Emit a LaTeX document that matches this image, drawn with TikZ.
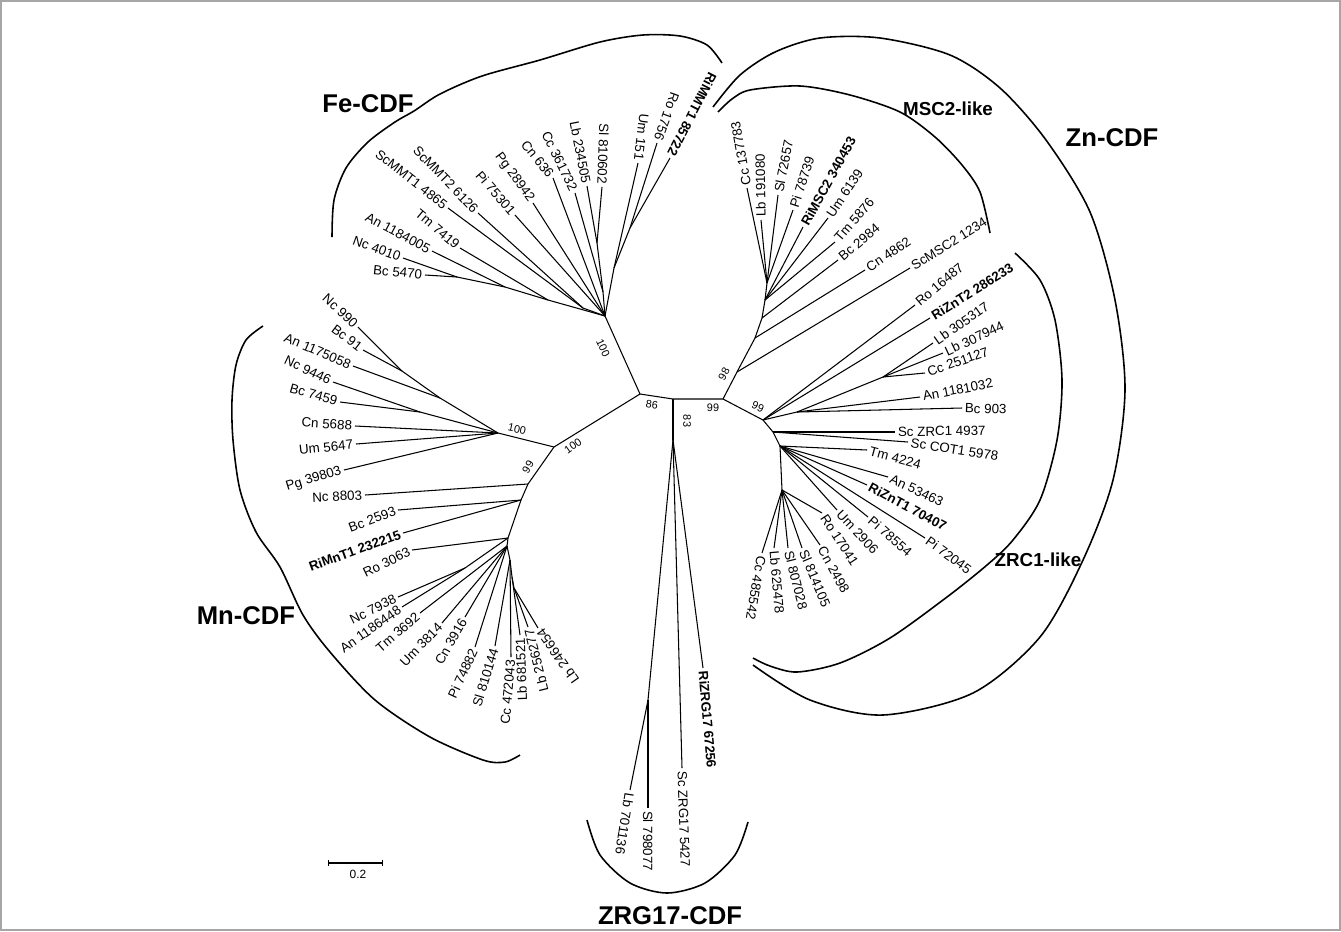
\documentclass[tikz,border=0pt]{standalone}
\usepackage{fontspec}
\setmainfont{Liberation Sans}
\usetikzlibrary{arrows.meta}

\tikzset{
  branch/.style={line width=0.6pt},
  bracket/.style={line width=0.9pt},
  tip/.style={font=\fontsize{7.6}{8}\selectfont, inner sep=1.5pt},
  tipin/.style={tip, anchor=east},
  tipout/.style={tip, anchor=west},
  boot/.style={font=\fontsize{6.2}{7}\selectfont, inner sep=0pt},
  cladename/.style={font=\bfseries\fontsize{14.6}{17}\selectfont},
  subname/.style={font=\bfseries\fontsize{10.7}{12}\selectfont},
}

\begin{document}
\begin{tikzpicture}[x=0.02cm, y=-0.02cm]
  \useasboundingbox (0,0) rectangle (1341,931);
  \draw[gray!70, line width=0.6pt] (1,1) rectangle (1340,930);

  % backbone
  \coordinate (A) at (640,394);
  \coordinate (B) at (673,399);
  \coordinate (C) at (723,399);
  \coordinate (D) at (554,447);
  \coordinate (fe0) at (605,316);
  \coordinate (ms0) at (737,372);
  \coordinate (zr0) at (763,420);
  \coordinate (zg0) at (673,440);
  \draw[branch] (A) -- (B) -- (C);
  \draw[branch] (B) -- (zg0);
  \draw[branch] (A) -- (fe0);
  \draw[branch] (A) -- (D);
  \draw[branch] (C) -- (ms0);
  \draw[branch] (C) -- (zr0);

  % Fe-CDF
  \coordinate (feA3) at (548,300);
  \coordinate (feA2) at (505,287);
  \coordinate (feA1) at (457,277);
  \coordinate (feS) at (583,308);
  \coordinate (feC) at (603,292);
  \coordinate (feL) at (597,243);
  \coordinate (feU) at (614,268);
  \coordinate (feR) at (630,228);
  \draw[branch] (fe0) -- (feA3) -- (feA2) -- (feA1);
  \draw[branch] (fe0) -- (feS);
  \draw[branch] (fe0) -- (feC) -- (feL);
  \draw[branch] (fe0) -- (feU) -- (feR);
  \foreach \pa/\nm/\xx/\yy/\rt/\txt in {
    feA1/fe1/425/275/-6/Bc 5470,
    feA1/fe2/403/258/-20/Nc 4010,
    feA2/fe3/432/251/-28/An 1184005,
    feA3/fe4/460/248/-40/Tm 7419,
    feS/fe5/448/208/-38/ScMMT1 4865,
    feS/fe6/478/213/-46/ScMMT2 6126,
    fe0/fe7/515/215/-49/Pi 75301,
    fe0/fe8/533/203/-54/Pg 28942,
    fe0/fe9/553/178/-51/Cn 636,
    feC/fe10/575/193/-64/Cc 361732,
    feL/fe11/587/186/-79/Lb 234505,
    feL/fe12/602/187/-92/Sl 810602,
    feU/fe13/638/163/-97/Um 151,
    feR/fe14/657/143/-110/Ro 1756,
    feR/fe15/670/158/-117/{\bfseries RiMMT1 85722}} {
    \coordinate (\nm) at (\xx,\yy);
    \node[tipin, rotate=\rt] (\nm-l) at (\nm) {\txt};
    \draw[branch] (\pa) -- (\nm);
  }

  % MSC2-like
  \coordinate (ms1) at (755,338);
  \coordinate (ms2) at (762,318);
  \coordinate (ms3) at (765,300);
  \coordinate (ms4) at (767,283);
  \draw[branch] (ms0) -- (ms1) -- (ms2) -- (ms3) -- (ms4);
  \foreach \pa/\nm/\xx/\yy/\rt/\txt in {
    ms4/ms5/747/188/100/Cc 137783,
    ms4/ms6/761/220/91/Lb 191080,
    ms4/ms7/778/195/79/Sl 72657,
    ms4/ms8/793/210/72/Pi 78739,
    ms3/ms9/803/227/61/{\bfseries RiMSC2 340453},
    ms3/ms10/828/218/56/Um 6139,
    ms3/ms11/835/242/49/Tm 5876,
    ms2/ms12/838/260/40/Bc 2984,
    ms1/ms13/865/270/34/Cn 4862,
    ms0/ms14/910/268/32/ScMSC2 1234} {
    \coordinate (\nm) at (\xx,\yy);
    \node[tipout, rotate=\rt] (\nm-l) at (\nm) {\txt};
    \draw[branch] (\pa) -- (\nm);
  }

  % ZRC1-like
  \coordinate (zrB) at (797,412);
  \coordinate (zrL) at (883,377);
  \coordinate (zr1) at (773,432);
  \coordinate (zr2) at (780,446);
  \coordinate (zr3) at (782,490);
  \draw[branch] (zr0) -- (zrB) -- (zrL);
  \draw[branch] (zr0) -- (zr1) -- (zr2) -- (zr3);
  \foreach \pa/\nm/\xx/\yy/\rt/\txt in {
    zr0/zl1/915/305/40/Ro 16487,
    zr0/zl2/930/318/32/{\bfseries RiZnT2 286233},
    zrL/zl3/933/343/35/Lb 305317,
    zrL/zl4/943/353/25/Lb 307944,
    zrL/zl5/925/373/19/Cc 251127,
    zrB/zl6/920/397/11/An 1181032,
    zrB/zl7/962/408/-2/Bc 903,
    zr1/zl8/895/432/1/Sc ZRC1 4937,
    zr1/zl9/908/442/-9/Sc COT1 5978,
    zr2/zl10/867/450/-15/Tm 4224,
    zr2/zl11/888/477/-25/An 53463,
    zr2/zl12/867/485/-28/{\bfseries RiZnT1 70407},
    zr2/zl13/925/538/-36/Pi 72045,
    zr2/zl14/868/517/-41/Pi 78554,
    zr2/zl15/837/510/-47/Um 2906,
    zr3/zl16/822/513/-57/Ro 17041,
    zr3/zl17/820/545/-61/Cn 2498,
    zr3/zl18/802/548/-67/Sl 814105,
    zr3/zl19/788/548/-76/Sl 807028,
    zr3/zl20/774/548/-85/Lb 625478,
    zr3/zl21/762/553/-100/Cc 485542} {
    \coordinate (\nm) at (\xx,\yy);
    \node[tipout, rotate=\rt] (\nm-l) at (\nm) {\txt};
    \draw[branch] (\pa) -- (\nm);
  }

  % Mn-CDF
  \coordinate (mnU) at (498,433);
  \coordinate (mnU1) at (440,398);
  \coordinate (mnU2) at (402,371);
  \coordinate (mnU3) at (420,412);
  \coordinate (mnL) at (528,484);
  \coordinate (mnL2) at (521,500);
  \coordinate (mnL3) at (508,538);
  \coordinate (mnNA) at (465,568);
  \coordinate (mnL4) at (507,546);
  \coordinate (mnL5) at (510,560);
  \coordinate (mnL6) at (512,577);
  \coordinate (mnL7) at (514,588);
  \draw[branch] (D) -- (mnU) -- (mnU1) -- (mnU2);
  \draw[branch] (mnU) -- (mnU3);
  \draw[branch] (D) -- (mnL) -- (mnL2) -- (mnL3) -- (mnNA);
  \draw[branch] (mnL3) -- (mnL4) -- (mnL5) -- (mnL6) -- (mnL7);
  \foreach \pa/\nm/\xx/\yy/\rt/\txt in {
    mnU2/mu1/358/327/-43/Nc 990,
    mnU2/mu2/363/350/-37/Bc 91,
    mnU1/mu3/353/366/-23/An 1175058,
    mnU3/mu4/333/382/-25/Nc 9446,
    mnU3/mu5/340/402/-16/Bc 7459,
    mnU/mu6/355/426/-4/Cn 5688,
    mnU/mu7/356/444/6/Um 5647,
    mnU/mu8/344/470/17/Pg 39803,
    mnL/ml1/365/495/3/Nc 8803,
    mnL2/ml2/398/510/20/Bc 2593,
    mnL2/ml3/403/533/20/{\bfseries RiMnT1 232215},
    mnL3/ml4/412/550/26/Ro 3063,
    mnNA/ml5/398/597/26/Nc 7938,
    mnNA/ml6/402/607/35/An 1186448,
    mnL4/ml7/420/613/41/Tm 3692,
    mnL4/ml8/442/623/46/Um 3814,
    mnL4/ml9/465/617/60/Cn 3916,
    mnL4/ml10/475/647/65/Pi 74882,
    mnL5/ml11/495/646/73/Sl 810144,
    mnL5/ml12/511/657/85/Cc 472043,
    mnL6/ml13/520/635/92/Lb 681521,
    mnL7/ml14/528/627/104/Lb 256277,
    mnL7/ml15/538/628/125/Lb 246654} {
    \coordinate (\nm) at (\xx,\yy);
    \node[tipin, rotate=\rt] (\nm-l) at (\nm) {\txt};
    \draw[branch] (\pa) -- (\nm);
  }

  % ZRG17-CDF
  \coordinate (zgS) at (648,700);
  \draw[branch] (zg0) -- (zgS);
  \foreach \pa/\nm/\xx/\yy/\rt/\txt in {
    zg0/zg1/703/668/-85/{\bfseries RiZRG17 67256},
    zg0/zg2/682/768/-88/Sc ZRG17 5427,
    zgS/zg3/648/808/-90/Sl 798077,
    zgS/zg4/630/790/-99/Lb 701136} {
    \coordinate (\nm) at (\xx,\yy);
    \node[tipout, rotate=\rt] (\nm-l) at (\nm) {\txt};
    \draw[branch] (\pa) -- (\nm);
  }

  % bootstrap values
  \node[boot, rotate=-65] (bFe) at (603,348) {100};
  \node[boot, rotate=-8]  (bA)  at (652,405) {86};
  \node[boot, rotate=-90] (bZg) at (687,421) {83};
  \node[boot]             (bC)  at (713,408) {99};
  \node[boot, rotate=-25] (bZr) at (758,407) {99};
  \node[boot, rotate=62]  (bMs) at (724,374) {98};
  \node[boot, rotate=35]  (bD)  at (573,446) {100};
  \node[boot, rotate=-12] (bMu) at (517,429) {100};
  \node[boot, rotate=60]  (bMl) at (528,467) {99};

  % clade brackets
  \draw[bracket] plot[smooth] coordinates {(332,237) (334,200) (346,168) (368,142)
    (395,122) (414,111) (440,94) (482,76) (540,60) (600,42) (643,35) (680,36)
    (707,45) (722,63)};
  \draw[bracket] plot[smooth] coordinates {(713,107) (740,75) (775,52) (820,38)
    (880,38) (950,55) (1000,88) (1046,140) (1090,212) (1115,300) (1125,390)
    (1113,480) (1083,560) (1040,637) (973,693) (883,715) (810,700) (753,665)};
  \draw[bracket] plot[smooth] coordinates {(718,112) (732,99) (750,90) (800,86)
    (850,95) (900,112) (935,137) (962,165) (980,192) (990,233)};
  \draw[bracket] plot[smooth] coordinates {(1015,253) (1040,280) (1055,320)
    (1062,380) (1057,440) (1040,500) (1013,540) (987,565) (947,597) (890,638)
    (840,663) (797,672) (770,666) (753,658)};
  \draw[bracket] plot[smooth] coordinates {(263,326) (246,340) (236,365) (232,400)
    (233,440) (240,490) (256,532) (280,567) (303,615) (330,652) (375,700)
    (430,737) (483,760) (505,762) (520,755)};
  \draw[bracket] plot[smooth] coordinates {(587,820) (600,855) (630,883)
    (667,893) (705,883) (735,855) (748,822)};

  % clade names
  \node[cladename] (fe) at (368,104) {Fe-CDF};
  \node[cladename] (zn) at (1112,138) {Zn-CDF};
  \node[cladename] (mn) at (246,616) {Mn-CDF};
  \node[cladename] (zrg) at (670,916) {ZRG17-CDF};
  \node[subname] (msc) at (948,109) {MSC2-like};
  \node[subname] (zrc) at (1038,560) {ZRC1-like};

  % scale bar
  \coordinate (sb1) at (328,863);
  \coordinate (sb2) at (383,863);
  \draw[line width=0.6pt, {Bar[width=3.6pt]}-{Bar[width=3.6pt]}] (sb1) -- (sb2);
  \node[font=\fontsize{6.8}{8}\selectfont] (sbl) at (358,874) {0.2};
\end{tikzpicture}
\end{document}
